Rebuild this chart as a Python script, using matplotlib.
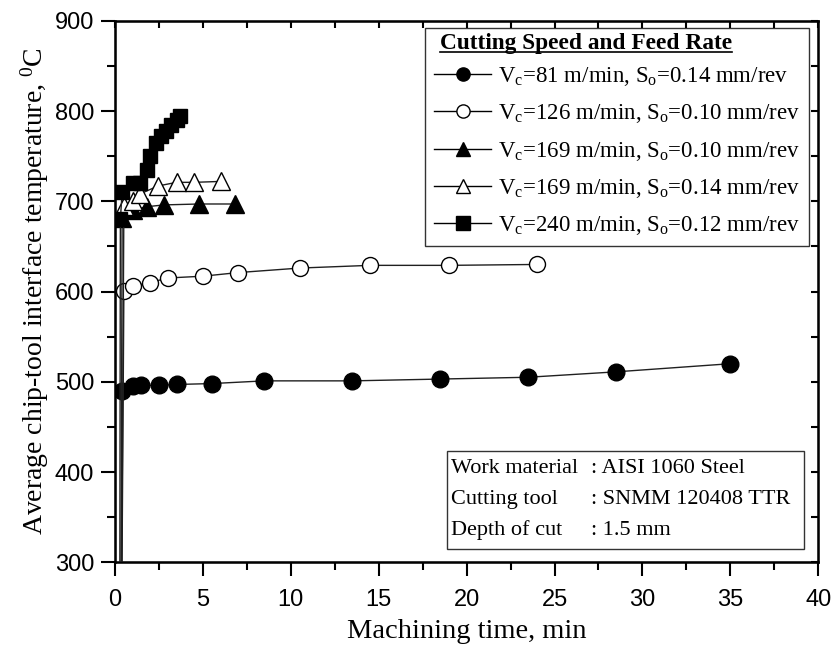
import matplotlib
matplotlib.use("Agg")
import matplotlib.pyplot as plt
from matplotlib.patches import Rectangle
from matplotlib.lines import Line2D

plt.rcParams['mathtext.fontset'] = 'custom'
plt.rcParams['mathtext.rm'] = 'Liberation Serif'
plt.rcParams['mathtext.it'] = 'Liberation Serif:italic'

# Machining time (min) and temperature (deg C); each run starts at ambient
t_81 = [0.3, 0.4, 1.0, 1.5, 2.5, 3.5, 5.5, 8.5, 13.5, 18.5, 23.5, 28.5, 35.0]
T_81 = [25, 490, 495, 496, 496, 497, 498, 501, 501, 503, 505, 511, 520]

t_126 = [0.3, 0.5, 1.0, 2.0, 3.0, 5.0, 7.0, 10.5, 14.5, 19.0, 24.0]
T_126 = [25, 601, 606, 610, 615, 617, 621, 626, 629, 629, 630]

t_169a = [0.3, 0.4, 1.0, 1.8, 2.8, 4.8, 6.8]
T_169a = [25, 681, 690, 694, 696, 697, 697]

t_169b = [0.3, 0.5, 1.0, 1.4, 2.45, 3.5, 4.5, 6.0]
T_169b = [25, 695, 700, 708, 717, 721, 721, 722]

t_240 = [0.25, 0.3, 0.4, 1.0, 1.4, 1.8, 2.0, 2.3, 2.6, 2.9, 3.2, 3.5, 3.7]
T_240 = [25, 680, 710, 720, 720, 735, 750, 765, 772, 778, 785, 790, 795]

labels = [
    r'V$_{\rm c}$=81 m/min, S$_{\rm o}$=0.14 mm/rev',
    r'V$_{\rm c}$=126 m/min, S$_{\rm o}$=0.10 mm/rev',
    r'V$_{\rm c}$=169 m/min, S$_{\rm o}$=0.10 mm/rev',
    r'V$_{\rm c}$=169 m/min, S$_{\rm o}$=0.14 mm/rev',
    r'V$_{\rm c}$=240 m/min, S$_{\rm o}$=0.12 mm/rev',
]
info_keys = ['Work material', 'Cutting tool', 'Depth of cut']
info_vals = [': AISI 1060 Steel', ': SNMM 120408 TTR', ': 1.5 mm']

serif = 'Liberation Serif'
sans = 'Liberation Sans'

fig = plt.figure(figsize=(8.34, 6.5), dpi=100)
ax = fig.add_axes([0.138, 0.135, 0.843, 0.833])

series = [
    (t_81, T_81, 'o', 'black', 12),
    (t_126, T_126, 'o', 'white', 11.5),
    (t_169a, T_169a, '^', 'black', 13),
    (t_169b, T_169b, '^', 'white', 13),
    (t_240, T_240, 's', 'black', 10.5),
]
handles = []
for (t, T, m, fc, ms), lab in zip(series, labels):
    ax.plot(t, T, color='#202020', lw=1.0, marker=m, ms=ms,
            mfc=fc, mec='black', mew=1.0, zorder=3)
    handles.append(Line2D([], [], color='black', lw=1.0, marker=m, ms=9.5,
                          mfc=fc, mec='black', mew=1.0, label=lab))

ax.set_xlim(0, 40)
ax.set_ylim(300, 900)
ax.set_xticks(range(0, 41, 5))
ax.set_yticks(range(300, 901, 100))
ax.set_xticks([2.5 + 5 * i for i in range(8)], minor=True)
ax.set_yticks([350 + 100 * i for i in range(6)], minor=True)
ax.tick_params(which='major', direction='out', length=10, width=1.5,
               labelsize=17, pad=5)
ax.tick_params(axis='x', which='major', pad=9)
ax.tick_params(which='minor', direction='out', length=6, width=1.5)
for lbl in ax.get_xticklabels() + ax.get_yticklabels():
    lbl.set_fontfamily(sans)
for s in ax.spines.values():
    s.set_linewidth(1.8)

# inward ticks on top and right
ax2 = ax.twiny()
ax2.set_xlim(0, 40)
ax2.set_xticks(range(0, 41, 5))
ax2.set_xticks([2.5 + 5 * i for i in range(8)], minor=True)
ax2.tick_params(which='both', direction='in', length=5, width=1.5,
                labeltop=False)
ax3 = ax.twinx()
ax3.set_ylim(300, 900)
ax3.set_yticks(range(300, 901, 100))
ax3.set_yticks([350 + 100 * i for i in range(6)], minor=True)
ax3.tick_params(which='both', direction='in', length=5, width=1.5,
                labelright=False)

ax.set_xlabel('Machining time, min', fontfamily=serif, fontsize=20.5, labelpad=6)
ax.set_ylabel(r'Average chip-tool interface temperature, $^{\rm 0}$C',
              fontfamily=serif, fontsize=20, labelpad=3)

leg = ax.legend(handles=handles, loc='upper right',
                bbox_to_anchor=(0.987, 0.987), prop={'family': serif, 'size': 16.5},
                title=' ', title_fontsize=10, frameon=True, fancybox=False,
                edgecolor='#333333', handlelength=2.5, handletextpad=0.3,
                labelspacing=0.62, borderpad=0.4, borderaxespad=0,
                framealpha=1)
leg.get_frame().set_linewidth(1.0)
leg.set_zorder(5)

fig.canvas.draw()
lb = leg.get_window_extent().transformed(ax.transAxes.inverted())
title_txt = ax.text(lb.x0 + 0.021, lb.y1 - 0.01, 'Cutting Speed and Feed Rate',
                    transform=ax.transAxes, ha='left', va='top',
                    fontfamily=serif, fontsize=16.8, fontweight='bold', zorder=6)
fig.canvas.draw()
tb = title_txt.get_window_extent().transformed(ax.transAxes.inverted())
ax.plot([tb.x0, tb.x1], [tb.y0 + 0.004, tb.y0 + 0.004], color='black', lw=1.2,
        transform=ax.transAxes, zorder=6)

# info box
ax.add_patch(Rectangle((0.472, 0.025), 0.508, 0.18, transform=ax.transAxes,
                       fill=True, facecolor='white', edgecolor='#333333',
                       lw=1.0, zorder=4))
for i, (k, v) in enumerate(zip(info_keys, info_vals)):
    y = 0.174 - i * 0.0575
    ax.text(0.478, y, k, transform=ax.transAxes, ha='left', va='center',
            fontfamily=serif, fontsize=16, zorder=5)
    ax.text(0.677, y, v, transform=ax.transAxes, ha='left', va='center',
            fontfamily=serif, fontsize=16, zorder=5)

fig.savefig('out.png', dpi=100)
